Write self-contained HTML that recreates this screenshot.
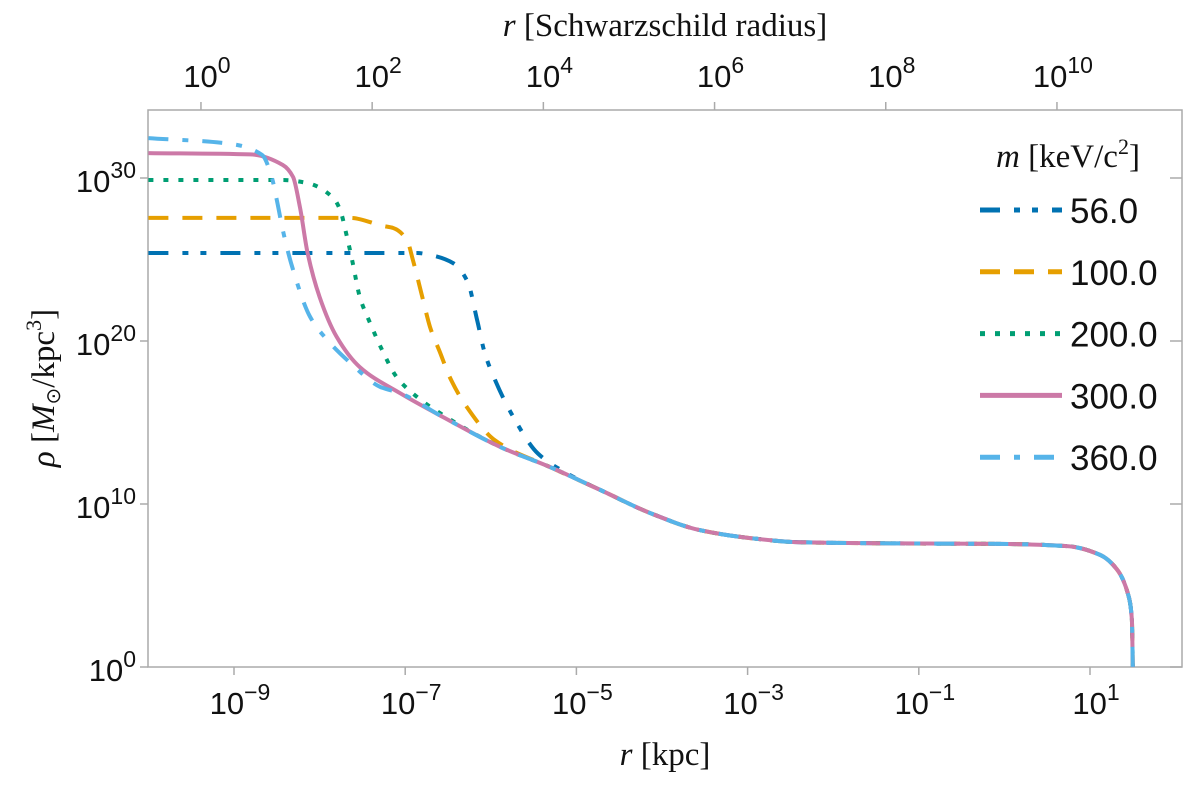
<!DOCTYPE html>
<html><head><meta charset="utf-8"><style>
html,body{margin:0;padding:0;background:#fff;}
svg{display:block;font-family:"Liberation Sans",sans-serif;}
.tk{font-size:31px;fill:#111;}
.ser{font-family:"Liberation Serif",serif;font-size:33px;fill:#111;}
</style></head><body>
<svg id="chart" width="1200" height="787" viewBox="0 0 1200 787" xmlns="http://www.w3.org/2000/svg">
<g id="axes"></g>
<g id="series"></g>
<g id="legend"></g>
</svg>
<script>
// data (log10 r [kpc], log10 rho)
const masses = ["56.0","100.0","200.0","300.0","360.0"];
const common = [[-7.06,16.8],[-6.56,15.34],[-5.89,13.5],[-5.31,12.27]];
const tail = [[-4.72,10.86],[-4.14,9.45],[-3.56,8.40],[-2.97,7.91],[-2.39,7.65],[-1.22,7.58],[-0.05,7.55],[0.73,7.42],[1.12,6.87],[1.32,5.95],[1.44,4.54],[1.49,2.88],[1.50,0]];
const s56 = [[-10,25.4],[-6.86,25.4],[-6.71,25.28],[-6.44,24.78],[-6.27,23.62],[-6.16,21.29],[-6.07,19.26],[-5.95,17.6],[-5.75,15.46],[-5.45,13.1],[-5.1,11.85]];
const s100 = [[-10,27.55],[-7.64,27.55],[-7.26,27.06],[-7.14,26.93],[-6.98,26.2],[-6.91,24.97],[-6.80,22.7],[-6.71,20.86],[-6.59,19.26],[-6.48,17.79],[-6.28,15.95],[-5.95,13.9],[-5.31,12.27]];
const s200 = [[-10,29.88],[-8.43,29.88],[-8.14,29.69],[-7.84,28.77],[-7.76,28.04],[-7.68,26.38],[-7.62,24.97],[-7.53,22.7],[-7.41,21.1],[-7.27,19.45],[-7.10,17.79],[-6.86,16.56],[-6.63,15.7],[-5.89,13.5],[-5.31,12.27]];
const s300 = [[-10,31.53],[-8.81,31.45],[-8.43,30.8],[-8.31,30.06],[-8.23,28.22],[-8.14,25.4],[-8.0,22.7],[-7.80,20.25],[-7.53,18.4]].concat(common);
const s360 = [[-10,32.45],[-9.05,32.1],[-8.67,31.41],[-8.56,30.06],[-8.50,28.65],[-8.43,26.81],[-8.31,24.36],[-8.11,21.47],[-7.91,20.06],[-7.64,18.65],[-7.29,17.18]].concat(common);
const xTicksBottom = [-9,-7,-5,-3,-1,1];
const xTicksTop = [0,2,4,6,8,10];
const yTicks = [0,10,20,30];

const NS="http://www.w3.org/2000/svg";
const L=148,R=1182,T=110,B=667;
const xs=v=>234+(v+9)*85.6;
const ys=v=>667-v*16.3;
const rsOffset=-9.386;
function mk(tag,attrs,parent){const e=document.createElementNS(NS,tag);for(const k in attrs)e.setAttribute(k,attrs[k]);parent.appendChild(e);return e;}
const ax=document.getElementById('axes');
let f=mk('rect',{x:L,y:T,width:R-L,height:B-T,fill:'none',stroke:'#aaa','stroke-width':1.5},ax);


function sup(parent,x,y,base,exp,anchor,name){
  const t=mk('text',{x:x,y:y,'text-anchor':anchor,class:'tk'},parent);
  
  
  t.appendChild(document.createTextNode(base));
  const s=mk('tspan',{dy:-14,'font-size':23},t);s.textContent=exp;
  return t;
}
xTicksBottom.forEach(v=>{
  const x=xs(v);
  let l=mk('line',{x1:x,x2:x,y1:B,y2:B+8,stroke:'#aaa','stroke-width':1.5},ax);
  
  
  sup(ax,x+6,714,'10',(v<0?'\u2212':'')+Math.abs(v),'middle','x-tick-label');
});
xTicksTop.forEach(v=>{
  const x=xs(v+rsOffset);
  let l=mk('line',{x1:x,x2:x,y1:T,y2:T-8,stroke:'#aaa','stroke-width':1.5},ax);
  
  
  sup(ax,x+6,87,'10',String(v),'middle','top-x-tick-label');
});
yTicks.forEach(v=>{
  const y=ys(v);
  let l=mk('line',{x1:L-8,x2:L,y1:y,y2:y,stroke:'#aaa','stroke-width':1.5},ax);
  
  
  let r=mk('line',{x1:R-12,x2:R,y1:y,y2:y,stroke:'#aaa','stroke-width':1.5},ax);
  
  
  sup(ax,L-12,y+14,'10',String(v),'end','y-tick-label');
});
let xt=mk('text',{x:665,y:765,'text-anchor':'middle',class:'ser'},ax);


xt.innerHTML='<tspan font-style="italic">r</tspan> [kpc]';
let tt=mk('text',{x:665,y:36,'text-anchor':'middle',class:'ser'},ax);


tt.innerHTML='<tspan font-style="italic">r</tspan> [Schwarzschild radius]';
let yt=mk('text',{x:0,y:0,'text-anchor':'middle',class:'ser',transform:'translate(54,388) rotate(-90)'},ax);


yt.innerHTML='<tspan font-style="italic">ρ</tspan> [<tspan font-style="italic">M</tspan><tspan font-size="20" dy="6">⊙</tspan><tspan dy="-6">/kpc</tspan><tspan font-size="22" dy="-13">3</tspan><tspan dy="13">]</tspan>';

const styles=[
 {c:'#0072b2',d:'20 14 6 12 6 14'},
 {c:'#e69f00',d:'20 14'},
 {c:'#009e73',d:'5 10'},
 {c:'#cc79a7',d:''},
 {c:'#56b4e9',d:'20 14 6 14'}];
const all=[s56,s100,s200,s300,s360];
function pathD(pts){
  const p=pts.map(q=>[xs(q[0]),ys(q[1])]);
  const n=p.length, dx=[], m=[], t=new Array(n);
  for(let i=0;i<n-1;i++){dx.push(p[i+1][0]-p[i][0]);m.push((p[i+1][1]-p[i][1])/dx[i]);}
  t[0]=m[0];t[n-1]=m[n-2];
  for(let i=1;i<n-1;i++){
    if(m[i-1]*m[i]<=0)t[i]=0;
    else{const w1=2*dx[i]+dx[i-1],w2=dx[i]+2*dx[i-1];t[i]=(w1+w2)/(w1/m[i-1]+w2/m[i]);}
  }
  let d='M'+p[0][0].toFixed(1)+','+p[0][1].toFixed(1);
  for(let i=0;i<n-1;i++){
    const h=dx[i]/3;
    d+='C'+(p[i][0]+h).toFixed(1)+','+(p[i][1]+t[i]*h).toFixed(1)+' '+(p[i+1][0]-h).toFixed(1)+','+(p[i+1][1]-t[i+1]*h).toFixed(1)+' '+p[i+1][0].toFixed(1)+','+p[i+1][1].toFixed(1);
  }
  return d;
}
const sg=document.getElementById('series');
[0,1,2,3,4].forEach(i=>{
  const pts=all[i].concat(tail);
  const p=mk('path',{d:pathD(pts),fill:'none',stroke:styles[i].c,'stroke-width':4,'stroke-dasharray':styles[i].d},sg);
  
  
});
const lg=document.getElementById('legend');
let lt=mk('text',{x:1068,y:167,'text-anchor':'middle',class:'ser','font-size':35},lg);


lt.innerHTML='<tspan font-style="italic">m</tspan> [keV/c<tspan font-size="22" dy="-13">2</tspan><tspan dy="13">]</tspan>';
masses.forEach((m,i)=>{
  const y=210+i*61.8;
  const g=mk('g',{},lg);
  
  
  mk('line',{x1:980,x2:1062,y1:y,y2:y,stroke:styles[i].c,'stroke-width':5,'stroke-dasharray':styles[i].d},g);
  const t=mk('text',{x:1070,y:y+13,'font-size':35,fill:'#111'},g);
  t.textContent=m;
});
</script>
</body></html>
